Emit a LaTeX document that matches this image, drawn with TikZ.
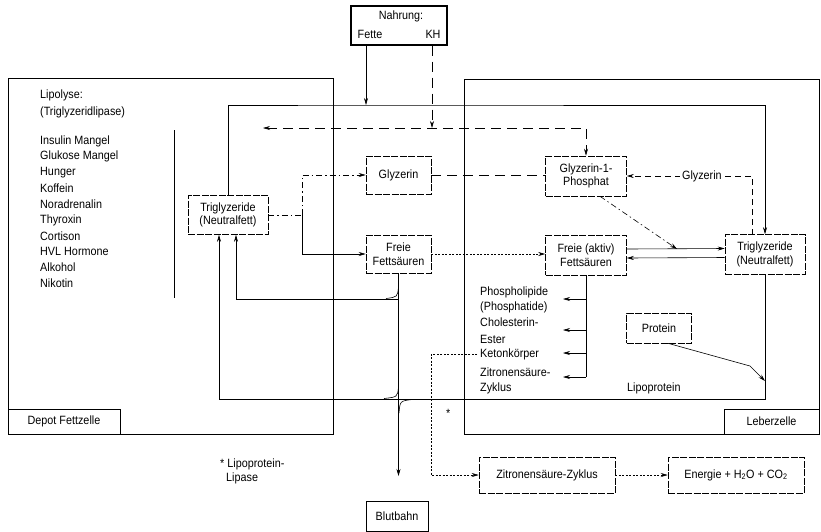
\documentclass[tikz,border=0pt]{standalone}
\usepackage{fontspec}
\setmainfont{Liberation Sans}[FakeStretch=0.9]
\usetikzlibrary{arrows.meta,calc}
\begin{document}
\begin{tikzpicture}[x=1pt,y=-1pt,
  every node/.style={font=\fontsize{12}{13.5}\selectfont, inner sep=1pt},
  box/.style={draw, line width=0.6pt, inner sep=2pt, align=center},
  ibox/.style={box, dash pattern=on 7pt off 1.5pt},
  txt/.style={anchor=west, inner sep=0pt},
  con/.style={line width=0.6pt},
  arr/.style={con, -{Stealth[length=7pt,width=4pt]}},
  arrboth/.style={con, {Stealth[length=7pt,width=4pt]}-{Stealth[length=7pt,width=4pt]}},
  dsh/.style={dash pattern=on 6pt off 4pt},
  dshlong/.style={dash pattern=on 10pt off 6pt},
  dashdot/.style={dash pattern=on 6pt off 3pt on 1.5pt off 3pt},
  dots/.style={dash pattern=on 2pt off 1.5pt},
]
\useasboundingbox (0,0) rectangle (821,531);

% cells
\node[box, minimum width=325pt, minimum height=356pt] (depot) at (170.5,256) {};
\node[box, minimum width=112pt, minimum height=25pt] (depotL) at (64,421.5) {Depot Fettzelle};
\node[box, minimum width=355pt, minimum height=355pt] (leber) at (641.5,256.5) {};
\node[box, minimum width=95pt, minimum height=25pt] (leberL) at (771.5,421.5) {Leberzelle};

% Nahrung
\node[box, line width=1.1pt, minimum width=96pt, minimum height=39pt] (nahrung) at (399,25.5) {};
\node (nahrT) at (401,16) {Nahrung:};
\node (fette) at (370,34) {Fette};
\node (kh) at (433,34) {KH};

% left text
\node[txt] (lipo) at (40,95) {Lipolyse:};
\node[txt] (tgl) at (40,112) {(Triglyzeridlipase)};
\foreach \t [count=\i] in {Insulin Mangel, Glukose Mangel, Hunger, Koffein, Noradrenalin, Thyroxin, Cortison, HVL Hormone, Alkohol, Nikotin}
  \node[txt] (f\i) at (40,{141+(\i-1)*15.8}) {\t};
\coordinate (brT) at (174,130);
\coordinate (brB) at (174,298);
\draw[con] (brT) -- (brB);

% boxes
\node[ibox, minimum width=80pt, minimum height=39pt] (trigL) at (228,215) {Triglyzeride\\(Neutralfett)};
\node[ibox, minimum width=65pt, minimum height=38pt] (glyL) at (398.5,175) {Glyzerin};
\node[ibox, minimum width=65pt, minimum height=38pt] (ffL) at (398.5,254) {Freie\\Fettsäuren};
\node[ibox, minimum width=81pt, minimum height=40pt] (g1p) at (586,176) {Glyzerin-1-\\Phosphat};
\node[ibox, minimum width=81pt, minimum height=40pt] (ffA) at (586,255) {Freie (aktiv)\\Fettsäuren};
\node[ibox, minimum width=80pt, minimum height=40pt] (trigR) at (765,254.5) {Triglyzeride\\(Neutralfett)};
\node[ibox, minimum width=65pt, minimum height=30pt] (protein) at (659,328) {Protein};
\node[ibox, minimum width=136pt, minimum height=36pt] (zit) at (547,475) {Zitronensäure-Zyklus};
\node[ibox, minimum width=136pt, minimum height=36pt] (energie) at (736,475) {Energie + H\textsubscript{2}O + CO\textsubscript{2}};
\node[box, minimum width=62pt, minimum height=30pt] (blut) at (397,516) {Blutbahn};

% list in liver
\node[txt] (p1) at (480,292) {Phospholipide};
\node[txt] (p2) at (480,307) {(Phosphatide)};
\node[txt] (c1) at (480,322) {Cholesterin-};
\node[txt] (c2) at (480,339) {Ester};
\node[txt] (keton) at (480,354) {Ketonkörper};
\node[txt] (z1) at (480,372) {Zitronensäure-};
\node[txt] (z2) at (480,388) {Zyklus};
\node[txt] (lipop) at (627,388) {Lipoprotein};

% footnote
\node[txt] (star) at (446,413) {*};
\node[txt] (fn1) at (220,464) {* Lipoprotein-};
\node[txt] (fn2) at (226,478) {Lipase};

% Fette path
\coordinate (fx) at (366,105);
\draw[arr] (fx |- nahrung.south) -- (fx);
\draw[arr] (trigL.north) |- (fx) -| (trigR.north);

% KH path
\coordinate (kx) at (432,128);
\coordinate (kl) at (263,128);
\draw[arr, dshlong] (kx |- nahrung.south) -- (kx);
\draw[arrboth, dshlong] (kl) -| (g1p.north);

% branch from Triglyzeride (Depot)
\coordinate (br) at (302,215);
\draw[con, dashdot] (trigL.east) -- (br);
\draw[arr, dashdot] (br) |- (glyL.west);
\draw[arr] (br) |- (ffL.west);

% Glyzerin -> Glyzerin-1-Phosphat
\draw[con, dshlong] (glyL.east) -- (glyL.east -| g1p.west);

% Glyzerin from liver Triglyzeride
\coordinate (gv) at (752,234.5);
\draw[arr, dsh] (gv) |- (g1p.east) node[pos=0.7, fill=white, inner sep=2pt] {Glyzerin};

% Freie Fettsaeuren -> Freie (aktiv)
\draw[arr, dots] (ffL.east) -- (ffL.east -| ffA.west);

% Freie (aktiv) <-> Triglyzeride
\coordinate (u1) at ($(ffA.east)+(0,-6)$);
\coordinate (u2) at ($(trigR.west)+(0,-6)$);
\coordinate (d1) at ($(ffA.east)+(0,3)$);
\coordinate (d2) at ($(trigR.west)+(0,3)$);
\draw[arr] (u1) -- (u2);
\draw[arr] (d2) -- (d1);
\coordinate (dtip) at (677,249);
\draw[arr, dashdot] ($(g1p.south)+(14,0)$) -- (dtip);

% Freie (aktiv) -> products
\coordinate (vb) at (586,377);
\draw[con] (ffA.south) -- (vb);
\foreach \y in {299,330,353,377}
  \draw[arr] (586,\y) -- (563,\y);

% Ketonkoerper -> Zitronensaeure-Zyklus
\coordinate (kk) at (431,354);
\draw[arr, dots] ($(keton.west)+(-3,0)$) -- (kk) |- (zit.west);
\draw[arr, dots] (zit.east) -- (energie.west);

% Protein -> Lipoprotein
\coordinate (pb) at (750,366);
\coordinate (pt) at (765,381);
\draw[arr] ($(protein.south)+(9,0)$) -- (pb) -- (pt);

% Lipoprotein loop
\coordinate (lp) at (219,399);
\draw[arr] (trigR.south) |- (lp) -- (lp |- trigL.south);
\coordinate (fl) at (236,299);
\draw[arr] (ffL.south |- fl) -- (fl) -- (fl |- trigL.south);
\coordinate (bt) at (398.5,476);
\draw[arr] (ffL.south) -- (bt);

% switch curves
\draw[con] (398.5,287) .. controls (397.5,297) .. (386,298.5);
\draw[con] (398.5,387) .. controls (397.5,397) .. (384,398.5);
\draw[con] (412,399.5) .. controls (400,401) .. (399,413);
\end{tikzpicture}
\end{document}
